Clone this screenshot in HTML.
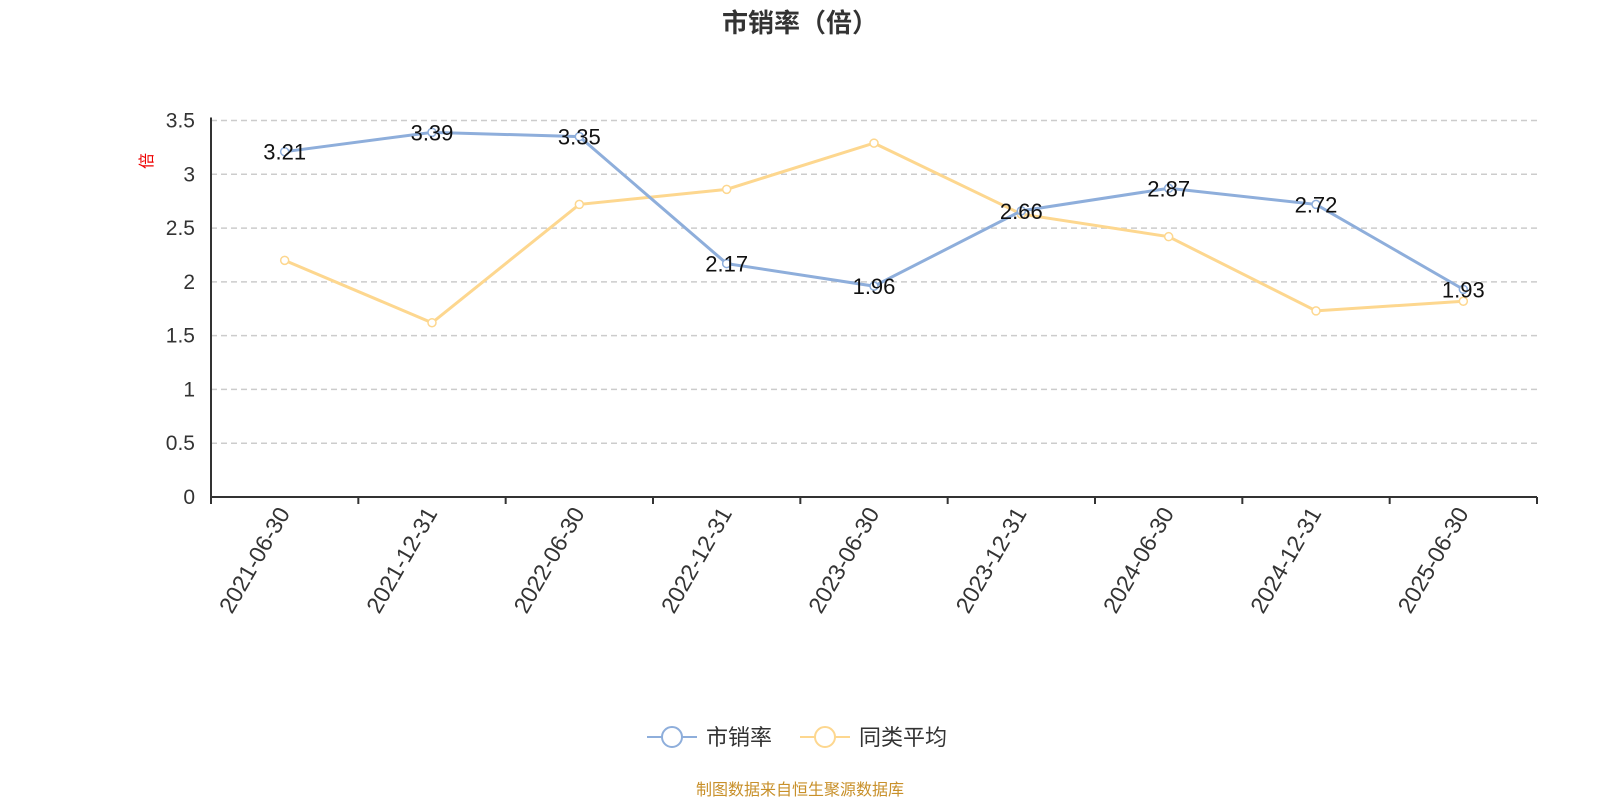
<!DOCTYPE html>
<html><head><meta charset="utf-8"><style>
body{margin:0;background:#fff;width:1600px;height:800px;overflow:hidden;font-family:"Liberation Sans","Noto Sans CJK SC",sans-serif}
</style></head><body>
<svg id="c" width="1600" height="800" xmlns="http://www.w3.org/2000/svg">
<text x="800" y="32" text-anchor="middle" font-size="26" font-weight="bold" fill="#333" font-family="Liberation Sans,Noto Sans CJK SC,sans-serif">市销率（倍）</text>
<text transform="translate(152,161) rotate(-90)" text-anchor="middle" font-size="16" fill="#e00" font-family="Noto Sans CJK SC,sans-serif">倍</text>
<g id="grid"></g><g id="axes"></g><g id="series"></g>
<g>
<g><line x1="647" y1="737" x2="697" y2="737" stroke="#8eaedb" stroke-width="2"/><circle cx="672" cy="737" r="10" fill="#fff" stroke="#8eaedb" stroke-width="2"/><text x="706" y="745" font-size="22" fill="#333" font-family="Noto Sans CJK SC,sans-serif">市销率</text></g>
<g><line x1="800" y1="737" x2="850" y2="737" stroke="#fdd78f" stroke-width="2"/><circle cx="825" cy="737" r="10" fill="#fff" stroke="#fdd78f" stroke-width="2"/><text x="859" y="745" font-size="22" fill="#333" font-family="Noto Sans CJK SC,sans-serif">同类平均</text></g>
</g>
<text x="800" y="795" text-anchor="middle" font-size="16" fill="#c8902a" font-family="Noto Sans CJK SC,sans-serif">制图数据来自恒生聚源数据库</text>
</svg>
<script>
const categories=["2021-06-30","2021-12-31","2022-06-30","2022-12-31","2023-06-30","2023-12-31","2024-06-30","2024-12-31","2025-06-30"];
const psValues=[3.21,3.39,3.35,2.17,1.96,2.66,2.87,2.72,1.93];
const avgValues=[2.2,1.62,2.72,2.86,3.29,2.63,2.42,1.73,1.82];
const yTicks=[0,0.5,1,1.5,2,2.5,3,3.5];
const NS="http://www.w3.org/2000/svg";
const L=211,R=1537,T=120.5,B=497,YMAX=3.5;
const bw=(R-L)/categories.length;
const x=i=>L+bw*(i+0.5);
const y=v=>B-(v/YMAX)*(B-T);
function mk(tag,attrs,parent){const e=document.createElementNS(NS,tag);for(const k in attrs)e.setAttribute(k,attrs[k]);parent.appendChild(e);return e;}
const grid=document.getElementById('grid'),axes=document.getElementById('axes'),ser=document.getElementById('series');
yTicks.forEach(t=>{
 if(t>0){const g=mk('line',{x1:L,x2:R,y1:y(t),y2:y(t),stroke:'#ccc','stroke-dasharray':'6,4','stroke-width':1.5},grid);
 
 }
 const tx=mk('text',{x:L-16,y:y(t)+7,'text-anchor':'end','font-size':21,fill:'#333'},axes);tx.textContent=t;
 
 
});
const ya=mk('line',{x1:L,x2:L,y1:T-3,y2:B,stroke:'#333','stroke-width':2},axes);


const xa=mk('line',{x1:L,x2:R,y1:B,y2:B,stroke:'#333','stroke-width':2},axes);


for(let i=0;i<=categories.length;i++){mk('line',{x1:L+bw*i,x2:L+bw*i,y1:B,y2:B+7,stroke:'#333','stroke-width':2},axes);}
categories.forEach((c,i)=>{
 const t=mk('text',{transform:`translate(${x(i)+6},${B+16}) rotate(-60)`,'text-anchor':'end','font-size':23,fill:'#333'},axes);t.textContent=c;
 
 
});
function line(vals,color,name,labels){
 const p=mk('polyline',{points:vals.map((v,i)=>x(i)+','+y(v)).join(' '),fill:'none',stroke:color,'stroke-width':3},ser);
 
 
 vals.forEach((v,i)=>{
  const c=mk('circle',{cx:x(i),cy:y(v),r:4,fill:'#fff',stroke:color,'stroke-width':1.5},ser);
  
  
  if(labels){const t=mk('text',{x:x(i),y:y(v)+8,'text-anchor':'middle','font-size':22,fill:'#111'},ser);t.textContent=v;
  
  }
 });
}
line(avgValues,'#fdd78f','avg',false);
line(psValues,'#8eaedb','ps',true);
</script>
</body></html>
